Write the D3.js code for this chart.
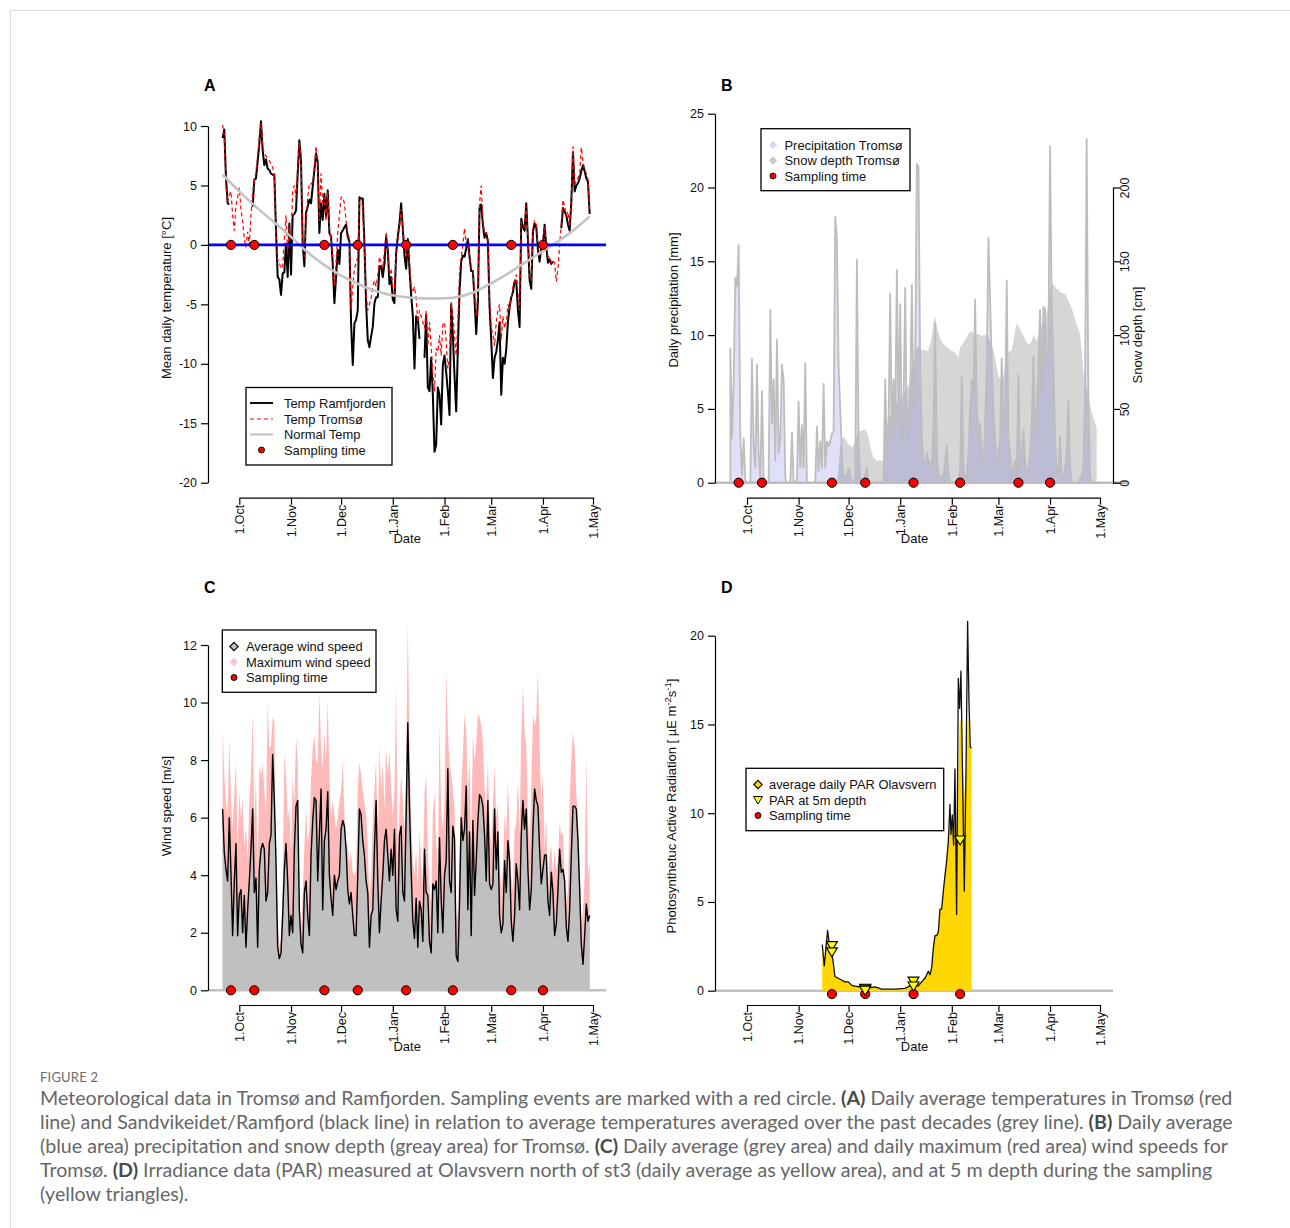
<!DOCTYPE html>
<html>
<head>
<meta charset="utf-8">
<script src="https://cdn.jsdelivr.net/npm/d3@7/dist/d3.min.js"></script>
<style>
  html, body { margin: 0; padding: 0; background: #fff; }
  svg { display: block; }
</style>
</head>
<body>
<svg id="fig" width="1290" height="1228"></svg>
<script>
// ---------------- data ----------------
// daily records start on this date (one value per day)
const seriesStart = "2016-09-21";
const monthLabels = ["1.Oct", "1.Nov", "1.Dec", "1.Jan", "1.Feb", "1.Mar", "1.Apr", "1.May"];
const monthStarts = ["2016-10-01", "2016-11-01", "2016-12-01", "2017-01-01", "2017-02-01", "2017-03-01", "2017-04-01", "2017-05-01"];
const samplingDates = ["2016-09-26", "2016-10-10", "2016-11-21", "2016-12-11", "2017-01-09", "2017-02-06", "2017-03-13", "2017-04-01"];

// mean daily temperature [°C], Sandvikeidet/Ramfjorden (null = no record)
const tempRamfjorden = [
  9.0, 9.7, 5.7, 3.5, 3.4, null, null, null, null, null,
  null, null, null, null, null, null, null, null, 3.2, 5.5,
  5.6, 7.0, 8.5, 10.4, 8.0, 6.7, 7.2, 6.4, 6.3, 6.0,
  5.9, 5.9, 1.2, -2.7, -2.9, -4.2, -2.4, -2.3, 0.1, -2.7,
  1.8, -2.5, 2.5, 2.6, 2.9, 6.0, 8.8, 7.1, 0.1, -1.8,
  2.7, 3.2, 3.8, 3.5, 4.9, 6.3, 7.7, 7.0, 1.0, 3.5,
  2.1, 4.3, 2.4, 4.6, 1.0, 0.7, -1.6, -4.9, -2.7, -0.4,
  -1.6, 1.0, 1.2, 1.5, 1.7, 0.7, 0.3, -6.6, -10.1, -6.6,
  -6.3, -5.5, 4.0, 3.9, 3.9, 0.1, -4.9, -8.0, -8.6, -7.7,
  -6.9, -4.9, -4.4, -4.4, -1.8, -1.8, -2.7, -1.6, 0.7, -0.4,
  -3.3, -2.7, -4.6, -4.9, -0.7, 0.7, 1.8, 3.5, 1.4, -0.9,
  -2.0, 0.5, -2.0, -4.2, -5.9, -10.4, -6.0, -6.2, -7.9, null,
  null, -9.5, -5.9, -12.0, -12.3, -9.5, -12.6, -17.4, -16.8, -12.0,
  -12.6, -15.1, -10.1, -9.3, -10.7, -12.3, -14.3, -5.0, -7.6, -11.0,
  -14.0, -8.7, -3.9, -1.4, -0.9, -1.0, -0.3, 0.5, -1.0, -2.2,
  -2.2, -4.6, -7.5, -4.8, 3.1, 3.4, 1.7, 0.6, 1.0, 0.3,
  -5.2, -8.0, -11.2, -9.5, -9.0, -8.0, -6.5, -12.6, -9.5, -10.0,
  -8.8, -6.5, -5.2, -4.4, -4.0, -3.1, -3.0, -5.5, -6.9, 2.2,
  1.5, 1.2, 3.5, 0.4, -3.0, -3.7, 1.1, 1.8, 1.5, -0.4,
  -1.4, -0.2, 0.0, 1.7, -0.2, -1.5, -1.2, -1.6, -1.4, null,
  null, null, null, 1.4, 3.1, 2.8, 2.5, 1.7, 1.2, 3.6,
  7.8, 4.5, 5.0, 5.2, 5.6, 6.2, 6.7, 6.2, 5.6, 5.3, 2.6
];

// mean daily temperature [°C], Tromsø
const tempTromso = [
  10.1, 9.2, 5.0, 3.6, 4.2, 4.5, 2.5, 1.2, 3.3, 4.0,
  4.8, 3.0, 2.0, 0.5, -0.2, 1.1, 0.0, 2.5, 4.5, 5.3,
  6.2, 7.5, 9.0, 10.2, 8.3, 7.7, 7.5, 7.3, 7.1, 6.8,
  6.5, 6.0, 0.7, -1.2, -1.5, -2.0, -1.8, 0.5, 2.5, -0.8,
  1.5, 0.5, 4.5, 5.0, 4.0, 6.5, 8.6, 7.5, 0.5, -1.0,
  2.0, 4.0, 5.2, 5.1, 5.3, 6.5, 8.3, 6.5, 2.0, 6.0,
  3.5, 4.0, 2.0, 4.5, 1.5, 0.5, -1.0, -3.5, -1.5, 1.0,
  2.5, 4.0, 4.0, 3.5, 2.0, 1.0, 0.5, -5.5, -3.5, -2.0,
  -1.5, -1.0, 3.5, 4.0, 3.0, -0.5, -4.0, -5.5, -5.0, -4.5,
  -3.5, -3.0, -3.5, -2.5, -1.0, -1.5, -2.0, -0.5, 1.1, -0.5,
  -2.5, -2.0, -3.8, -4.0, -0.5, 0.5, 1.5, 3.0, 1.5, 0.0,
  -1.0, 0.3, -1.5, -3.5, -4.0, -3.5, -4.5, -6.5, -5.5, -6.0,
  -6.5, -7.0, -5.5, -8.5, -6.5, -8.5, -10.9, -12.3, -8.7, -9.0,
  -7.6, -9.3, -6.7, -6.5, -8.1, -10.4, -9.5, -4.8, -5.9, -7.6,
  -9.3, -6.5, -2.3, -1.0, 0.0, 1.4, 0.0, 0.5, -1.0, -2.0,
  -2.0, -4.0, -6.0, -4.0, 3.5, 5.0, 2.0, 1.0, 1.0, 0.5,
  -4.5, -7.0, -7.5, -8.5, -6.5, -5.5, -5.0, -8.0, -6.0, -7.0,
  -6.5, -5.0, -5.5, -4.5, -3.5, -3.0, -2.5, -4.0, -5.5, 2.0,
  1.5, 1.5, 3.3, 0.5, -2.5, -3.0, 1.5, 2.0, 1.8, 0.0,
  -1.0, 0.0, 0.5, 1.5, 0.0, -1.0, -1.0, -1.5, -1.3, -1.5,
  -3.1, -2.0, 0.0, 1.8, 3.8, 3.2, 2.5, 2.8, 1.5, 4.0,
  8.3, 5.0, 5.5, 5.6, 6.0, 8.2, 7.0, 6.3, 6.0, 5.5, 2.7
];

// long-term normal temperature [°C], every 10th day of the record
const normalDayIndex = [0, 10, 20, 30, 40, 50, 60, 70, 80, 90, 100, 110, 120, 130, 140, 150, 160, 170, 180, 190, 200, 210, 220];
const normalTemp = [5.9, 4.5, 3.2, 2.0, 0.8, -0.5, -1.6, -2.5, -3.2, -3.8, -4.2, -4.4, -4.5, -4.5, -4.4, -4.0, -3.3, -2.5, -1.6, -0.7, 0.2, 1.2, 2.4];

// daily precipitation [mm], Tromsø
const precipitation = [
  9.1, 3.0, 7.0, 13.9, 13.3, 16.1, 3.0, 0.5, 3.0, 0.2,
  0.0, 0.0, 0.0, 8.4, 2.5, 1.0, 8.0, 2.0, 0.3, 6.2,
  0.3, 0.0, 0.0, 0.0, 11.7, 4.0, 7.0, 1.5, 9.7, 2.0,
  3.0, 8.0, 7.0, 0.3, 0.0, 0.0, 0.0, 3.4, 0.0, 0.0,
  0.2, 5.5, 1.0, 3.9, 1.0, 8.1, 0.0, 0.0, 0.0, 0.0,
  0.0, 0.0, 3.8, 0.8, 2.8, 1.0, 6.7, 1.0, 2.8, 2.5,
  2.8, 3.3, 3.5, 18.0, 16.5, 8.0, 5.0, 2.0, 0.3, 0.5,
  0.5, 1.0, 0.5, 0.0, 0.0, 0.0, 15.1, 3.0, 0.0, 0.0,
  0.0, 0.5, 1.0, 0.0, 0.0, 0.0, 0.0, 0.0, 0.0, 0.0,
  0.0, 0.0, 0.0, 7.0, 2.0, 4.0, 12.8, 3.0, 7.0, 4.0,
  14.4, 4.0, 12.1, 3.0, 5.0, 13.2, 3.0, 5.0, 6.0, 13.4,
  5.0, 8.0, 21.6, 21.4, 8.0, 3.0, 1.5, 1.0, 2.0, 1.5,
  1.3, 1.0, 4.0, 10.8, 2.0, 0.5, 0.5, 0.3, 0.5, 1.5,
  2.5, 0.5, 0.0, 0.0, 0.0, 0.0, 0.0, 0.0, 1.0, 7.2,
  1.0, 0.3, 0.5, 2.0, 5.0, 7.0, 6.0, 12.4, 5.0, 3.0,
  4.0, 2.0, 1.0, 4.0, 8.0, 16.6, 12.5, 8.0, 5.0, 3.0,
  1.0, 2.0, 3.0, 8.4, 4.0, 5.0, 13.7, 3.0, 2.0, 0.5,
  1.0, 1.5, 0.5, 7.3, 1.0, 2.0, 3.6, 1.5, 0.5, 1.0,
  2.0, 4.0, 8.6, 3.0, 5.0, 8.0, 11.7, 6.0, 11.9, 11.8,
  8.0, 9.0, 22.8, 12.0, 8.4, 3.0, 1.0, 0.5, 3.1, 0.5,
  0.3, 1.0, 2.0, 5.6, 1.0, 0.0, 0.0, 0.0, 0.0, 0.0,
  0.3, 0.5, 1.0, 6.0, 23.3, 6.0, 0.5, 0.0, 0.0, 0.0, 0.0
];

// snow depth [cm], Tromsø, daily from this date
const snowStart = "2016-11-24";
const snowDepth = [
  0, 10, 25, 30, 31, 30,
  28, 26, 25, 24, 26, 28, 32, 35, 35, 35,
  36, 36, 34, 31, 25, 20, 17, 16, 15, 15,
  15, 15, 15, 35, 40, 42, 45, 48, 50, 52,
  55, 55, 58, 60, 60, 62, 64, 66, 70, 78,
  82, 88, 92, 92, 91, 90, 90, 90, 89, 90,
  94, 100, 108, 113, 106, 101, 98, 95, 94, 93,
  92, 91, 90, 89, 89, 88, 86, 85, 92, 93,
  95, 97, 99, 101, 102, 103, 101, 100, 100, 101,
  100, 99, 100, 100, 99, 99, 96, 93, 90, 85,
  78, 72, 71, 70, 72, 80, 85, 88, 89, 90,
  95, 103, 108, 106, 104, 101, 100, 97, 95, 94,
  94, 96, 100, 98, 96, 100, 104, 107, 108, 110,
  115, 122, 130, 135, 134, 133, 131, 131, 129, 129,
  128, 128, 126, 123, 121, 118, 115, 111, 107, 104,
  101, 90, 75, 68, 64, 58, 53, 48, 44, 41, 37
];

// daily average wind speed [m/s], Tromsø
const windAverage = [
  6.3, 4.8, 4.2, 3.8, 6.0, 4.1, 1.9, 3.8, 5.1, 1.9,
  3.3, 3.5, 2.0, 3.3, 1.5, 2.8, 3.8, 4.9, 6.3, 3.4,
  3.9, 1.5, 4.2, 4.9, 5.1, 4.9, 3.1, 3.4, 5.1, 5.4,
  8.2, 6.6, 4.5, 1.5, 1.1, 1.3, 2.6, 4.2, 5.1, 3.8,
  1.9, 2.6, 2.0, 4.9, 6.4, 6.6, 2.8, 1.6, 1.3, 3.4,
  3.8, 2.6, 1.9, 4.7, 5.9, 6.7, 6.6, 3.8, 5.4, 7.0,
  2.8, 5.2, 5.6, 6.9, 4.0, 3.2, 2.6, 4.0, 3.5, 3.8,
  4.0, 5.6, 5.9, 5.7, 4.9, 3.5, 3.0, 3.4, 2.6, 1.9,
  1.9, 4.0, 6.3, 6.1, 5.2, 4.7, 3.8, 3.4, 1.5, 2.6,
  2.8, 4.9, 6.6, 3.8, 2.0, 3.1, 4.0, 5.2, 5.6, 4.7,
  3.8, 4.9, 4.0, 5.6, 2.8, 2.4, 5.4, 5.7, 3.4, 3.1,
  6.1, 9.3, 6.4, 4.2, 2.4, 1.8, 3.2, 1.5, 3.1, 2.8,
  1.7, 4.9, 3.4, 3.3, 1.7, 1.3, 3.7, 3.5, 3.8, 2.0,
  5.3, 3.2, 2.0, 4.0, 4.5, 7.7, 3.8, 3.4, 5.7, 5.3,
  1.2, 1.0, 3.0, 6.0, 5.2, 5.6, 7.1, 2.8, 5.5, 1.9,
  5.9, 3.3, 4.5, 5.9, 6.8, 6.7, 6.4, 5.4, 3.8, 6.6,
  3.7, 3.5, 3.7, 6.3, 4.2, 5.5, 2.6, 2.0, 2.3, 4.5,
  3.4, 5.2, 4.5, 2.4, 1.7, 2.6, 4.4, 3.8, 2.8, 5.4,
  6.6, 5.6, 6.3, 4.2, 2.8, 3.5, 5.6, 7.0, 6.6, 6.4,
  4.9, 3.7, 4.2, 4.7, 4.7, 3.1, 2.6, 4.1, 3.4, 1.9,
  2.3, 3.5, 4.9, 4.1, 4.2, 3.8, 2.2, 1.7, 2.8, 4.7,
  6.4, 6.4, 6.3, 5.2, 3.5, 1.6, 0.9, 1.9, 3.0, 2.4, 2.6
];

// daily maximum wind speed [m/s], Tromsø
const windMaximum = [
  9.1, 7.5, 6.6, 6.1, 8.8, 6.6, 5.6, 6.9, 7.9, 5.0,
  6.9, 6.0, 6.7, 5.0, 5.7, 4.5, 6.6, 7.5, 9.6, 6.0,
  7.3, 4.0, 7.8, 7.5, 7.9, 7.0, 6.0, 10.0, 8.4, 8.5,
  9.5, 9.3, 4.5, 2.5, 1.5, 1.8, 3.5, 8.2, 7.5, 6.0,
  6.3, 4.7, 7.5, 6.5, 8.8, 8.0, 3.3, 1.9, 3.3, 5.0,
  6.3, 5.2, 5.5, 7.3, 8.4, 8.9, 8.0, 7.9, 10.3, 8.5,
  7.7, 8.9, 8.0, 10.1, 7.5, 6.0, 6.6, 6.1, 5.6, 6.0,
  6.6, 6.9, 8.0, 6.1, 5.2, 5.0, 4.4, 4.8, 4.1, 4.0,
  4.2, 7.0, 7.9, 7.5, 6.9, 6.5, 6.1, 5.0, 3.2, 4.1,
  6.0, 7.0, 8.0, 4.9, 8.5, 7.0, 7.9, 6.3, 8.4, 7.5,
  8.3, 7.1, 6.0, 7.0, 10.6, 4.5, 6.3, 7.5, 6.6, 5.5,
  7.5, 12.8, 8.6, 6.0, 4.5, 4.0, 4.9, 3.5, 5.6, 4.4,
  3.8, 6.8, 7.5, 4.9, 3.5, 3.0, 6.1, 6.9, 5.2, 4.0,
  9.3, 6.3, 5.6, 6.5, 11.1, 9.0, 7.9, 7.5, 7.0, 6.3,
  2.4, 2.8, 4.5, 7.0, 8.2, 9.6, 9.0, 6.8, 8.1, 5.0,
  8.9, 8.0, 8.6, 9.6, 9.5, 9.2, 8.6, 7.0, 6.3, 7.9,
  6.0, 4.9, 6.3, 7.9, 6.0, 6.5, 4.4, 3.5, 4.2, 6.1,
  5.5, 7.3, 5.4, 4.0, 3.5, 5.6, 5.8, 7.3, 5.5, 8.8,
  10.6, 9.0, 8.5, 6.1, 5.0, 7.0, 9.6, 9.2, 9.5, 11.1,
  8.4, 6.5, 7.5, 4.9, 6.0, 3.4, 4.8, 5.0, 4.0, 4.9,
  4.2, 4.5, 5.8, 5.4, 5.5, 4.0, 3.1, 3.5, 6.6, 8.0,
  9.0, 8.4, 6.8, 6.0, 4.4, 2.2, 2.8, 4.0, 8.1, 4.0, 4.4
];

// PAR at Olavsvern [µE m-2 s-1]; time in days after 1 October
const parDay = [45.2, 46.4, 47.2, 48.4, 49.2, 50.4, 51.8, 52.8, 54.8, 56.8, 58.8, 60.9, 62.9, 64.9, 67.9, 70.9, 73.9, 76.9, 80.9, 88.9, 94.9, 98.9, 102.9, 104.9, 106.9, 108.9, 109.9, 110.9, 111.9, 112.9, 113.9, 114.9, 115.9, 116.9, 117.9, 118.9, 119.9, 120.9, 121.9, 122.5, 123.3, 124.1, 124.9, 125.9, 126.9, 127.7, 128.5, 129.5, 130.5, 131.5, 132.5, 133.3, 134.1, 134.9];
const parRecorded = [2.6, 1.4, 2.2, 3.4, 2.8, 2.4, 1.6, 0.8, 0.7, 0.6, 0.5, 0.5, 0.3, 0.26, 0.22, 0.17, 0.17, 0.22, 0.09, 0.09, 0.13, 0.32, 0.28, 0.5, 0.7, 1.1, 0.9, 1.3, 2.4, 3.1, 3.1, 3.3, 4.6, 4.6, 5.6, 6.5, 7.3, 8.4, 10.5, 8.8, 9.9, 8.2, 12.5, 4.3, 17.6, 15.9, 18.0, 11.8, 5.6, 12.2, 20.8, 16.3, 13.7, 13.7];
const parDailyAverage = [2.6, 1.4, 2.2, 3.4, 2.8, 2.4, 1.6, 0.8, 0.7, 0.6, 0.5, 0.5, 0.3, 0.26, 0.22, 0.17, 0.17, 0.22, 0.09, 0.09, 0.13, 0.32, 0.28, 0.5, 0.7, 1.1, 0.9, 1.3, 2.4, 3.1, 3.1, 3.3, 4.6, 4.6, 5.6, 6.5, 7.3, 8.4, 10.0, 8.8, 9.5, 9.0, 9.5, 8.5, 12.0, 15.0, 15.3, 13.0, 11.0, 12.2, 15.0, 15.3, 13.7, 13.7];

// PAR measured at 5 m depth during sampling
const par5mDates = ["2016-11-21", "2016-11-21", "2016-12-11", "2016-12-11", "2016-12-11", "2017-01-09", "2017-01-09", "2017-02-06"];
const par5mValues = [2.55, 2.2, 0.15, 0.1, 0.04, 0.55, 0.28, 8.5];
const parSamplingDates = ["2016-11-21", "2016-12-11", "2017-01-09", "2017-02-06"];

// ---------------- drawing ----------------
const svg = d3.select("#fig");
const FONT = "'Liberation Sans', Arial, Helvetica, sans-serif";
svg.attr("font-family", FONT);

const parse = d3.utcParse("%Y-%m-%d");
const DAY = 864e5;
const t0 = parse(seriesStart);
const oct1 = parse(monthStarts[0]);
const tickDates = monthStarts.map(parse);
const sampleDates = samplingDates.map(parse);
const dateAt = (start, i) => new Date(start.getTime() + i * DAY);
const toPoints = (arr, start = t0) => arr.map((v, i) => ({ date: dateAt(start, i), v }));

// page frame
svg.append("path").attr("d", "M10.5,1228 V10.5 H1290").attr("fill", "none").attr("stroke", "#dedede");

function xScale(x0, x1) {
  return d3.scaleUtc().domain([tickDates[0], tickDates[tickDates.length - 1]]).range([x0, x1]);
}

function styleAxis(g) {
  g.attr("font-family", FONT).attr("font-size", 12.5);
  g.select(".domain").attr("stroke", "#000").attr("stroke-width", 1.2);
  g.selectAll(".tick line").attr("stroke", "#000").attr("stroke-width", 1.2);
  g.selectAll(".tick text").attr("fill", "#111");
}

function drawXAxis(x, y0) {
  const g = svg.append("g").attr("transform", `translate(0,${y0})`)
    .call(d3.axisBottom(x).tickValues(tickDates).tickFormat((d, i) => monthLabels[i]).tickSize(7).tickSizeOuter(0));
  styleAxis(g);
  g.selectAll(".tick text")
    .attr("transform", "rotate(-90)")
    .attr("x", -7).attr("y", 0).attr("dy", "0.35em")
    .attr("text-anchor", "end");
  const r = x.range();
  svg.append("text").attr("x", (r[0] + r[1]) / 2 - 9).attr("y", y0 + 45.5)
    .attr("text-anchor", "middle").attr("font-size", 13).attr("fill", "#111").text("Date");
}

function drawYAxisLeft(y, x0, ticks) {
  const g = svg.append("g").attr("transform", `translate(${x0},0)`)
    .call(d3.axisLeft(y).tickValues(ticks).tickFormat(d => String(d)).tickSize(7).tickPadding(4).tickSizeOuter(0));
  styleAxis(g);
  return g;
}

function yTitle(x, y, text) {
  return svg.append("text").attr("transform", `translate(${x},${y}) rotate(-90)`)
    .attr("text-anchor", "middle").attr("font-size", 13).attr("fill", "#111").text(text);
}

function panelLabel(x, y, t) {
  svg.append("text").attr("x", x).attr("y", y).attr("font-size", 16).attr("font-weight", 700).attr("fill", "#000").text(t);
}

function hLine(x1, x2, y, color, w) {
  svg.append("line").attr("x1", x1).attr("x2", x2).attr("y1", y).attr("y2", y)
    .attr("stroke", color).attr("stroke-width", w);
}

function samplingDots(dates, x, yv) {
  svg.append("g").selectAll("circle").data(dates).join("circle")
    .attr("cx", d => x(d)).attr("cy", yv).attr("r", 4.6)
    .attr("fill", "#ff0000").attr("stroke", "#000").attr("stroke-width", 1);
}

function legend(box, rowsY, symX, textX, items) {
  svg.append("rect").attr("x", box[0]).attr("y", box[1]).attr("width", box[2]).attr("height", box[3])
    .attr("fill", "#fff").attr("stroke", "#000").attr("stroke-width", 1.3);
  items.forEach((it, i) => {
    const g = svg.append("g").attr("transform", `translate(${symX},${rowsY[i]})`);
    it.symbol(g);
    svg.append("text").attr("x", textX).attr("y", rowsY[i]).attr("dy", "0.35em")
      .attr("font-size", 12.9).attr("fill", "#111").text(it.label);
  });
}

const diamond = (fill, stroke) => g => g.append("path").attr("d", "M0,-4.2 L4.2,0 L0,4.2 L-4.2,0 Z")
  .attr("fill", fill).attr("stroke", stroke || "none").attr("stroke-width", 1.1);
const dot = g => g.append("circle").attr("r", 3).attr("fill", "#ff0000").attr("stroke", "#000").attr("stroke-width", 0.9);
const TRI = "M-5.5,-3.8 L5.5,-3.8 L0,5.2 Z";

// ===== A: temperature =====
{
  const x = xScale(239.3, 593);
  const y = d3.scaleLinear().domain([-20, 10]).range([482.7, 126]);
  panelLabel(204, 91, "A");

  const line = d3.line().defined(d => d.v != null).x(d => x(d.date)).y(d => y(d.v));
  svg.append("path").datum(toPoints(tempRamfjorden)).attr("d", line)
    .attr("fill", "none").attr("stroke", "#000").attr("stroke-width", 2).attr("stroke-linejoin", "round");
  svg.append("path").datum(toPoints(tempTromso)).attr("d", line)
    .attr("fill", "none").attr("stroke", "#ff0000").attr("stroke-width", 1.2).attr("stroke-dasharray", "4,3");

  const normalPts = normalDayIndex.map((k, j) => ({ date: dateAt(t0, k), v: normalTemp[j] }));
  svg.append("path").datum(normalPts)
    .attr("d", d3.line().curve(d3.curveNatural).x(d => x(d.date)).y(d => y(d.v)))
    .attr("fill", "none").attr("stroke", "#c4c4c4").attr("stroke-width", 2.6);

  hLine(208, 606, y(0), "#0000ff", 2.6);
  samplingDots(sampleDates, x, y(0));

  drawYAxisLeft(y, 208, [-20, -15, -10, -5, 0, 5, 10]);
  drawXAxis(x, 497.7);
  yTitle(171, 298, "Mean daily temperature [°C]");

  legend([246, 387.5, 146, 77.5], [403, 419, 434.5, 450], 261.5, 284, [
    { label: "Temp Ramfjorden", symbol: g => g.append("line").attr("x1", -11.5).attr("x2", 11.5).attr("stroke", "#000").attr("stroke-width", 1.9) },
    { label: "Temp Tromsø", symbol: g => g.append("line").attr("x1", -11.5).attr("x2", 11.5).attr("stroke", "#ff0000").attr("stroke-width", 1.1).attr("stroke-dasharray", "4,3") },
    { label: "Normal Temp", symbol: g => g.append("line").attr("x1", -11.5).attr("x2", 11.5).attr("stroke", "#c4c4c4").attr("stroke-width", 2.2) },
    { label: "Sampling time", symbol: dot }
  ]);
}

// ===== B: precipitation and snow depth =====
{
  const x = xScale(747, 1100);
  const y = d3.scaleLinear().domain([0, 25]).range([482.7, 113.7]);
  const ySnow = d3.scaleLinear().domain([0, 200]).range([482.7, 187.5]);
  panelLabel(721, 91, "B");

  svg.append("path").datum(toPoints(snowDepth, parse(snowStart)))
    .attr("d", d3.area().x(d => x(d.date)).y0(ySnow(0)).y1(d => ySnow(d.v)))
    .attr("fill", "rgba(0,0,0,0.16)");
  svg.append("path").datum(toPoints(precipitation))
    .attr("d", d3.area().x(d => x(d.date)).y0(y(0)).y1(d => y(d.v)))
    .attr("fill", "rgba(0,0,196,0.12)").attr("stroke", "#bdbdbd").attr("stroke-width", 1.8).attr("stroke-linejoin", "round");

  hLine(715, 1128, y(0), "#bdbdbd", 2.6);
  samplingDots(sampleDates, x, y(0));

  drawYAxisLeft(y, 715, [0, 5, 10, 15, 20, 25]);
  const gr = svg.append("g").attr("transform", "translate(1113,0)")
    .call(d3.axisRight(ySnow).tickValues([0, 50, 100, 150, 200]).tickFormat(d => String(d)).tickSize(7).tickSizeOuter(0));
  styleAxis(gr);
  gr.selectAll(".tick text").attr("transform", "rotate(-90)").attr("x", 0).attr("y", 16).attr("dy", 0).attr("text-anchor", "middle");

  drawXAxis(x, 497.7);
  yTitle(677.5, 300, "Daily precipitation [mm]");
  yTitle(1141.5, 335, "Snow depth [cm]");

  legend([761, 128.7, 149, 62], [145, 160.5, 176], 773, 784.5, [
    { label: "Precipitation Tromsø", symbol: diamond("#d8d8f2") },
    { label: "Snow depth Tromsø", symbol: diamond("#c8c8c8") },
    { label: "Sampling time", symbol: dot }
  ]);
}

// ===== C: wind speed =====
{
  const x = xScale(239.3, 593);
  const y = d3.scaleLinear().domain([0, 12]).range([990.3, 645]);
  panelLabel(204, 593, "C");

  svg.append("path").datum(toPoints(windMaximum))
    .attr("d", d3.area().x(d => x(d.date)).y0(y(0)).y1(d => y(d.v)))
    .attr("fill", "#ffb9b9");
  const avg = toPoints(windAverage);
  svg.append("path").datum(avg)
    .attr("d", d3.area().x(d => x(d.date)).y0(y(0)).y1(d => y(d.v)))
    .attr("fill", "#c0c0c0");
  svg.append("path").datum(avg)
    .attr("d", d3.line().x(d => x(d.date)).y(d => y(d.v)))
    .attr("fill", "none").attr("stroke", "#000").attr("stroke-width", 1.4).attr("stroke-linejoin", "round");

  hLine(208, 606, y(0), "#c0c0c0", 2.6);
  samplingDots(sampleDates, x, y(0));

  drawYAxisLeft(y, 208, [0, 2, 4, 6, 8, 10, 12]);
  drawXAxis(x, 1005);
  yTitle(171, 806, "Wind speed [m/s]");

  legend([222.3, 630, 153.7, 62.3], [646.5, 662, 677.5], 234, 246, [
    { label: "Average wind speed", symbol: diamond("#c0c0c0", "#000") },
    { label: "Maximum wind speed", symbol: diamond("#ffc4c4") },
    { label: "Sampling time", symbol: dot }
  ]);
}

// ===== D: photosynthetic active radiation =====
{
  const x = xScale(747, 1100);
  const y = d3.scaleLinear().domain([0, 20]).range([990.7, 635.7]);
  panelLabel(721, 593, "D");

  const at = d => new Date(oct1.getTime() + d * DAY);
  const fillPts = parDay.map((d, i) => ({ date: at(d), v: parDailyAverage[i] }));
  const linePts = parDay.map((d, i) => ({ date: at(d), v: parRecorded[i] }));

  hLine(715, 1113, y(0), "#c0c0c0", 2.6);
  svg.append("path").datum(fillPts)
    .attr("d", d3.area().x(d => x(d.date)).y0(y(0)).y1(d => y(d.v)))
    .attr("fill", "#ffd700");
  svg.append("path").datum(linePts)
    .attr("d", d3.line().x(d => x(d.date)).y(d => y(d.v)))
    .attr("fill", "none").attr("stroke", "#111").attr("stroke-width", 1.3).attr("stroke-linejoin", "round");

  samplingDots(parSamplingDates.map(parse), x, y(-0.19));

  svg.append("g").selectAll("path").data(par5mDates.map((d, i) => ({ date: parse(d), v: par5mValues[i] })))
    .join("path")
    .attr("transform", d => `translate(${x(d.date)},${y(d.v)})`)
    .attr("d", TRI).attr("fill", "#ffff00").attr("stroke", "#000").attr("stroke-width", 1.1);

  drawYAxisLeft(y, 715, [0, 5, 10, 15, 20]);
  drawXAxis(x, 1005);

  const t = svg.append("text").attr("transform", "translate(675.5,806) rotate(-90)")
    .attr("text-anchor", "middle").attr("font-size", 13).attr("fill", "#111");
  t.append("tspan").text("Photosynthetuc Active Radiation  [ µE m");
  t.append("tspan").attr("dy", -5).attr("font-size", 9.5).text("-2");
  t.append("tspan").attr("dy", 5).text("s");
  t.append("tspan").attr("dy", -5).attr("font-size", 9.5).text("-1");
  t.append("tspan").attr("dy", 5).text("]");

  legend([746, 768.3, 197.7, 62.4], [784.5, 800, 815.5], 758, 769, [
    { label: "average daily PAR Olavsvern", symbol: diamond("#ffd700", "#000") },
    { label: "PAR at 5m depth", symbol: g => g.append("path").attr("d", "M-4.5,-3.5 L4.5,-3.5 L0,4 Z").attr("fill", "#ffff00").attr("stroke", "#000").attr("stroke-width", 1) },
    { label: "Sampling time", symbol: dot }
  ]);
}

// ===== caption =====
{
  const CAP_FONT = "Lato, 'Open Sans', sans-serif";
  svg.append("text").attr("x", 40).attr("y", 1082).attr("font-family", CAP_FONT)
    .attr("font-size", 13).attr("fill", "#6b6b6b").attr("letter-spacing", 0.2).text("FIGURE 2");

  const lines = [
    [["Meteorological data in Tromsø and Ramfjorden. Sampling events are marked with a red circle. ", 0], ["(A)", 1], [" Daily average temperatures in Tromsø (red", 0]],
    [["line) and Sandvikeidet/Ramfjord (black line) in relation to average temperatures averaged over the past decades (grey line). ", 0], ["(B)", 1], [" Daily average", 0]],
    [["(blue area) precipitation and snow depth (greay area) for Tromsø. ", 0], ["(C)", 1], [" Daily average (grey area) and daily maximum (red area) wind speeds for", 0]],
    [["Tromsø. ", 0], ["(D)", 1], [" Irradiance data (PAR) measured at Olavsvern north of st3 (daily average as yellow area), and at 5 m depth during the sampling", 0]],
    [["(yellow triangles).", 0]]
  ];
  const nodes = lines.map((parts, i) => {
    const t = svg.append("text").attr("x", 40).attr("y", 1105 + i * 24)
      .attr("font-family", CAP_FONT).attr("font-size", 17).attr("fill", "#666");
    parts.forEach(([s, b]) => {
      const sp = t.append("tspan").text(s);
      if (b) sp.attr("font-weight", 700).attr("fill", "#4a4a4a");
    });
    return t;
  });
  const w = nodes[0].node().getComputedTextLength();
  if (w > 0) {
    const fs = 17 * 1193 / w;
    nodes.forEach(t => t.attr("font-size", fs.toFixed(2)));
  }
}
</script>
</body>
</html>
